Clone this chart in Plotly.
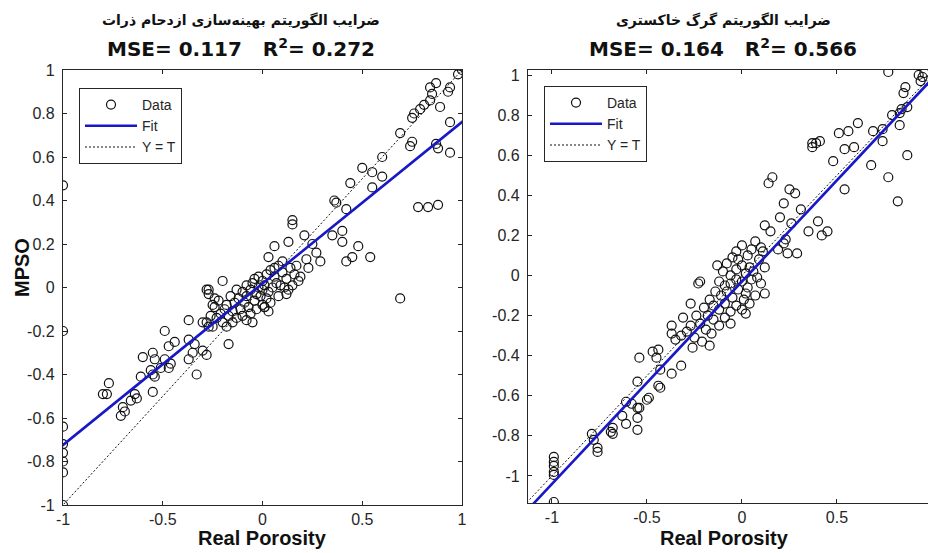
import plotly.graph_objects as go

# ---------------- data ----------------
# Left panel: PSO-optimised coefficients (MPSO) vs. real porosity
pso_real = [
    1.00, 0.98, 0.94, 0.93, 0.87, 0.84, 0.85, 0.84, 0.81, 0.79, 0.76, 0.75, 0.89, 0.94,
    0.69, 0.74, 0.75, 0.87, 0.88, 0.94, 0.60, 0.50, 0.55, 0.60, 0.44, 0.55, 0.36, 0.37,
    0.42, 0.78, 0.83, 0.88, 0.15, 0.15, 0.21, 0.13, 0.25, 0.35, 0.40, 0.40, 0.48, 0.45,
    0.42, 0.54, 0.06, 0.03, 0.27, 0.22, 0.29, 0.23, -0.20, -0.28, -0.08, -1.00,
    -0.05, -0.02, 0.00, 0.02, 0.04, 0.06, 0.08, 0.10, 0.12, 0.14, 0.16, 0.18, 0.05, 0.03,
    0.00, -0.03, -0.06, -0.08, -0.10, -0.12, -0.14, -0.16, -0.18, -0.11, -0.09, -0.07,
    -0.04, -0.01, 0.02, 0.07, 0.09, 0.11, 0.13, 0.01, -0.02, 0.10, 0.06, -0.04, -0.13,
    -0.15, -0.17, -0.19, -0.21, -0.23, -0.20, -0.22, -0.24, -0.13, -0.10, -0.06, -0.03,
    0.00, 0.04, 0.08, 0.15, 0.17, 0.19, -0.26, -0.25, -0.28, -0.18, -0.15, -0.08, -0.05,
    0.03, 0.12, 0.01,
    -0.27, -0.27, -0.25, -0.24, -0.37, -0.30, -0.27, -0.49, -0.44, -0.47, -0.37, -0.34,
    -0.17, -0.60, -0.55, -0.54, -0.49, -0.46, -0.51, -0.47, -0.37, -0.35, -0.30, -0.28,
    -0.56, -0.55, -0.54, -0.61, -0.33, -0.55, -0.77, -0.80, -0.78, -0.64, -0.63, -0.66,
    -0.70, -0.69, -0.71, 0.69, 0.01,
    -1.00, -1.00, -1.00, -1.00, -1.00, -1.00, -1.00,
]
pso_pred = [
    1.00, 0.98, 0.92, 0.90, 0.94, 0.92, 0.89, 0.86, 0.84, 0.82, 0.80, 0.78, 0.83, 0.76,
    0.71, 0.65, 0.67, 0.66, 0.64, 0.62, 0.60, 0.55, 0.53, 0.51, 0.48, 0.46, 0.40, 0.39,
    0.36, 0.37, 0.37, 0.38, 0.31, 0.29, 0.24, 0.21, 0.20, 0.24, 0.26, 0.21, 0.19, 0.14,
    0.12, 0.14, 0.19, 0.14, 0.16, 0.13, 0.12, 0.09, 0.03, -0.01, 0.01, 0.47,
    0.02, 0.05, 0.03, 0.06, 0.08, 0.05, 0.10, 0.07, 0.04, 0.09, 0.06, 0.03, 0.00, -0.02,
    -0.01, -0.03, -0.01, -0.04, -0.02, -0.05, -0.07, -0.04, -0.08, -0.10, -0.07, -0.09,
    -0.06, -0.04, -0.05, 0.02, 0.01, 0.00, -0.01, 0.01, 0.00, 0.12, 0.09, 0.04, -0.01,
    -0.11, -0.13, -0.10, -0.12, -0.14, -0.16, -0.06, -0.09, -0.14, -0.13, -0.12, -0.10,
    -0.08, -0.07, -0.04, 0.01, 0.10, 0.05, -0.13, -0.18, -0.16, -0.18, -0.16, -0.15, -0.16,
    -0.11, -0.03, -0.09,
    -0.01, -0.03, -0.08, -0.05, -0.15, -0.16, -0.18, -0.20, -0.25, -0.27, -0.24, -0.26,
    -0.26, -0.32, -0.30, -0.33, -0.33, -0.35, -0.37, -0.37, -0.33, -0.30, -0.29, -0.31,
    -0.38, -0.40, -0.41, -0.41, -0.40, -0.48, -0.44, -0.49, -0.49, -0.49, -0.51, -0.52,
    -0.55, -0.57, -0.59, -0.05, -0.09,
    -0.20, -0.64, -0.72, -0.76, -0.80, -0.85, -1.00,
]

# Right panel: grey-wolf-optimised coefficients vs. real porosity
gwo_real = [
    0.77, 0.93, 0.95, 0.96, 0.94, 0.86, 0.85, 0.87, 0.84, 0.83, 0.79, 0.83, 0.74, 0.69,
    0.74, 0.87, 0.68, 0.77, 0.82, 0.61, 0.56, 0.51, 0.37, 0.39, 0.41, 0.37, 0.59, 0.54,
    0.48, 0.54, 0.16, 0.14, 0.25, 0.28, 0.22, 0.31, 0.20, 0.26, 0.40, 0.35, 0.42, 0.45,
    0.12, 0.15, 0.23, 0.22, 0.19, 0.29, 0.24, -0.22,
    -0.10, -0.08, -0.05, -0.03, 0.00, 0.03, 0.05, 0.07, 0.09, 0.11, 0.12, -0.06, -0.03,
    0.00, 0.02, 0.04, 0.06, 0.08, 0.10, -0.12, -0.09, -0.06, -0.03, 0.00, 0.03, 0.05,
    -0.14, -0.11, -0.08, -0.05, -0.02, 0.01, 0.04, 0.07, -0.17, -0.15, -0.12, -0.09,
    -0.06, -0.03, 0.00, -0.20, -0.18, -0.15, -0.12, -0.09, -0.24, -0.22, -0.19, -0.16,
    -0.27, -0.29, -0.25, -0.21, -0.31, -0.02, 0.02, 0.10, -0.13, 0.12, 0.02, -0.06,
    -0.17, -0.27, -0.23,
    -0.37, -0.37, -0.35, -0.32, -0.26, -0.54, -0.47, -0.44, -0.45, -0.32, -0.37, -0.43,
    -0.44, -0.43, -0.55, -0.49, -0.50, -0.61, -0.58, -0.55, -0.54, -0.55, -0.63, -0.61,
    -0.55, -0.68, -0.68, -0.69, -0.79, -0.78, -0.76, -0.76,
    -0.99, -0.99, -0.99, -0.99, -0.99, -0.99,
]
gwo_pred = [
    1.015, 1.00, 0.99, 1.01, 0.97, 0.94, 0.91, 0.84, 0.83, 0.81, 0.80, 0.75, 0.73, 0.72,
    0.67, 0.60, 0.55, 0.49, 0.37, 0.76, 0.72, 0.71, 0.66, 0.66, 0.67, 0.64, 0.64, 0.63,
    0.57, 0.43, 0.49, 0.46, 0.43, 0.41, 0.36, 0.33, 0.29, 0.26, 0.27, 0.22, 0.20, 0.22,
    0.25, 0.22, 0.18, 0.16, 0.13, 0.11, 0.11, -0.03,
    0.02, 0.06, 0.09, 0.12, 0.15, 0.10, 0.13, 0.17, 0.08, 0.12, 0.04, 0.00, 0.03,
    0.05, 0.01, 0.04, 0.02, -0.01, -0.04, -0.03, -0.05, -0.04, -0.02, -0.03, -0.06, -0.02,
    -0.08, -0.10, -0.08, -0.11, -0.07, -0.12, -0.14, -0.10, -0.12, -0.15, -0.17, -0.14,
    -0.18, -0.15, -0.17, -0.16, -0.20, -0.22, -0.25, -0.21, -0.20, -0.24, -0.27, -0.29,
    -0.25, -0.28, -0.31, -0.33, -0.21, 0.08, -0.09, 0.14, 0.05, -0.09, -0.19, -0.24,
    -0.35, -0.14, -0.04,
    -0.25, -0.29, -0.32, -0.30, -0.36, -0.41, -0.38, -0.37, -0.41, -0.45, -0.49, -0.47,
    -0.55, -0.56, -0.53, -0.61, -0.62, -0.63, -0.64, -0.66, -0.66, -0.71, -0.70, -0.74,
    -0.77, -0.76, -0.79, -0.78, -0.79, -0.82, -0.86, -0.88,
    -0.905, -0.93, -0.95, -0.98, -0.995, -1.13,
]

# Linear fits (slope, intercept) and score lines
pso_fit = (0.7425, 0.0185)
gwo_fit = (1.01, -0.03)
pso_scores = ("0.117", "0.272")
gwo_scores = ("0.164", "0.566")

pso_title = "ضرایب الگوریتم بهینه‌سازی ازدحام ذرات"
gwo_title = "ضرایب الگوریتم گرگ خاکستری"

x_ticks = [-1, -0.5, 0, 0.5, 1]
x_ticktext = ["-1", "-0.5", "0", "0.5", "1"]
y_ticks = [-1, -0.8, -0.6, -0.4, -0.2, 0, 0.2, 0.4, 0.6, 0.8, 1]
y_ticktext = ["-1", "-0.8", "-0.6", "-0.4", "-0.2", "0", "0.2", "0.4", "0.6", "0.8", "1"]

pso_xrange = [-1.0, 1.0]
pso_yrange = [-1.0, 1.0]
gwo_xrange = [-1.126, 0.979]
gwo_yrange = [-1.135, 1.025]

# ---------------- figure ----------------
W, H = 928, 553
AXIS_FONT = "Liberation Sans, Arial, sans-serif"
WIDE_FONT = "DejaVu Sans, sans-serif"
INK = "#262626"
FIT_BLUE = "#1818c8"

fig = go.Figure()


def add_panel(xs, ys, fit, xr, xa, ya, legend):
    fig.add_trace(go.Scatter(
        x=xs, y=ys, mode="markers", name="Data",
        marker=dict(symbol="circle-open", size=9, color="#111111", line=dict(width=1.2)),
        xaxis=xa, yaxis=ya, legend=legend,
    ))
    m, b = fit
    fx = [xr[0] - 0.05, xr[1] + 0.05]
    fig.add_trace(go.Scatter(
        x=fx, y=[m * v + b for v in fx], mode="lines", name="Fit",
        line=dict(color=FIT_BLUE, width=2.6),
        xaxis=xa, yaxis=ya, legend=legend,
    ))
    fig.add_trace(go.Scatter(
        x=fx, y=fx, mode="lines", name="Y = T",
        line=dict(color="#111111", width=1, dash="2px,2px"),
        xaxis=xa, yaxis=ya, legend=legend,
    ))


add_panel(pso_real, pso_pred, pso_fit, pso_xrange, "x", "y", "legend")
add_panel(gwo_real, gwo_pred, gwo_fit, gwo_xrange, "x2", "y2", "legend2")


def px_x(p):
    return p / W


def px_y(p):
    return 1 - p / H


axis_common = dict(
    showgrid=False, zeroline=False, showline=True, linecolor=INK, linewidth=1.2,
    ticks="inside", ticklen=4, tickcolor=INK, tickwidth=1, automargin=False,
    tickfont=dict(family=AXIS_FONT, size=16, color=INK),
)

legend_common = dict(
    xanchor="left", yanchor="top", bgcolor="white", bordercolor=INK, borderwidth=1,
    font=dict(family=AXIS_FONT, size=14, color=INK), tracegroupgap=0, itemwidth=52,
)

fig.update_layout(
    width=W, height=H,
    margin=dict(l=0, r=0, t=0, b=0, pad=0),
    paper_bgcolor="white", plot_bgcolor="white",
    showlegend=True,
    xaxis=dict(domain=[px_x(63), px_x(462)], range=pso_xrange, anchor="y",
               tickvals=x_ticks, ticktext=x_ticktext, mirror="ticks", **axis_common),
    yaxis=dict(domain=[px_y(505), px_y(70)], range=pso_yrange, anchor="x",
               tickvals=y_ticks, ticktext=y_ticktext, mirror="ticks",
               ticklabelstandoff=4, **axis_common),
    xaxis2=dict(domain=[px_x(528), 1.0], range=gwo_xrange, anchor="y2",
                tickvals=x_ticks, ticktext=x_ticktext, mirror="ticks", **axis_common),
    yaxis2=dict(domain=[px_y(503), px_y(70)], range=gwo_yrange, anchor="x2",
                tickvals=y_ticks, ticktext=y_ticktext, mirror=False,
                ticklabelstandoff=4, **axis_common),
    legend=dict(x=px_x(79), y=px_y(88), **legend_common),
    legend2=dict(x=px_x(544), y=px_y(86), **legend_common),
)

title_font = dict(family=WIDE_FONT, size=14, color="#111111")
score_font = dict(family=WIDE_FONT, size=20, color="#111111")
label_font = dict(family=AXIS_FONT, size=20, color="#111111")

for cx, title, (mse, r2) in [(241, pso_title, pso_scores), (723, gwo_title, gwo_scores)]:
    fig.add_annotation(x=px_x(cx), y=px_y(20), xref="paper", yref="paper",
                       text=f"<b>{title}</b>", showarrow=False, font=title_font,
                       xanchor="center", yanchor="middle")
    fig.add_annotation(x=px_x(cx), y=px_y(48), xref="paper", yref="paper",
                       text=f"<b>MSE= {mse}   R<sup>2</sup>= {r2}</b>", showarrow=False,
                       font=score_font, xanchor="center", yanchor="middle")

for cx in (262, 724):
    fig.add_annotation(x=px_x(cx), y=px_y(538), xref="paper", yref="paper",
                       text="<b>Real Porosity</b>", showarrow=False, font=label_font,
                       xanchor="center", yanchor="middle")

fig.add_annotation(x=px_x(22), y=px_y(268), xref="paper", yref="paper",
                   text="<b>MPSO</b>", showarrow=False, font=label_font, textangle=-90,
                   xanchor="center", yanchor="middle")

fig.write_html("out.html")
